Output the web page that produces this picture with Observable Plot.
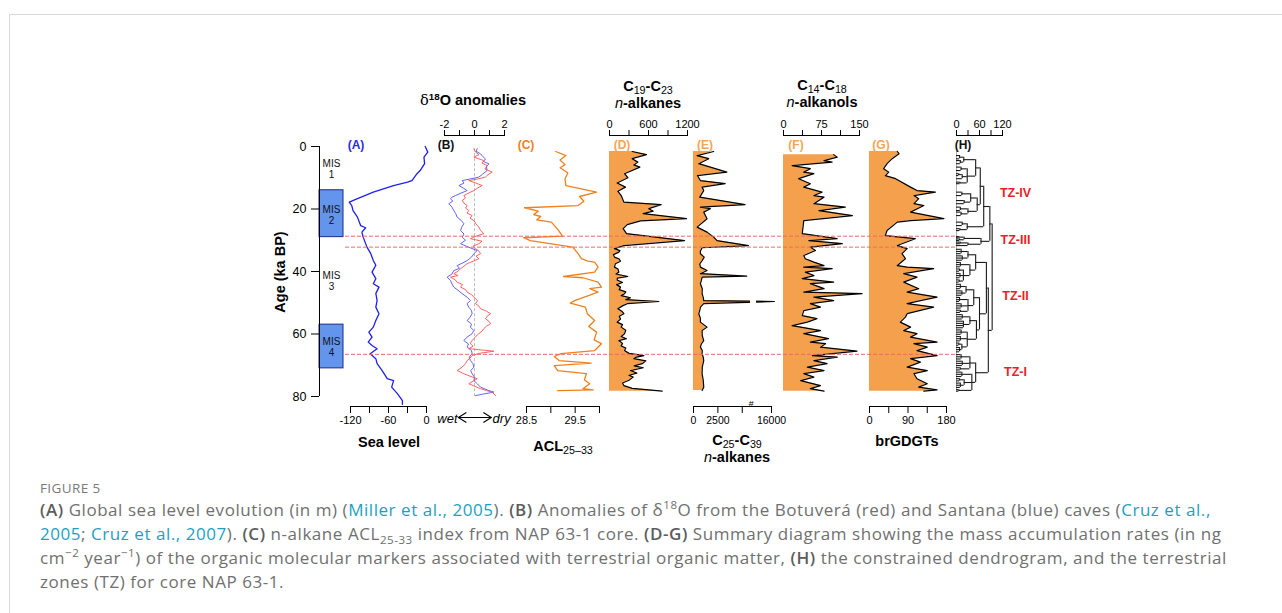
<!DOCTYPE html>
<html>
<head>
<meta charset="utf-8">
<script src="https://cdn.jsdelivr.net/npm/d3@7"></script>
<script src="https://cdn.jsdelivr.net/npm/@observablehq/plot@0.6"></script>
<style>
html,body{margin:0;padding:0;background:#fff;overflow:hidden;}
#wrap{position:relative;width:1282px;height:613px;overflow:hidden;font-family:"Liberation Sans",Arial,sans-serif;}
#card{position:absolute;left:9px;top:14px;width:1400px;height:800px;border-top:1.5px solid #d8d8d8;border-left:1.5px solid #d8d8d8;}
#wrap svg{position:absolute;left:0;top:0;}
.lbl{position:absolute;transform:translate(-50%,-50%);white-space:nowrap;font-weight:bold;font-size:14.5px;color:#000;line-height:13px;text-align:center;}
.lbl sub{font-weight:normal;font-size:0.74em;vertical-align:-0.28em;line-height:0;}
.lbl sup{font-size:0.68em;vertical-align:0.45em;line-height:0;}
.plab{font-size:12px;}
.cap{position:absolute;left:40px;font-family:"Open Sans",Lato,sans-serif;font-size:17px;line-height:20px;color:#707070;white-space:nowrap;letter-spacing:0.55px;transform:translateY(-50%);}
.cap b{color:#5c5c5c;font-weight:600;}
.cap a{color:#1d9fc4;text-decoration:none;}
.cap sub,.cap sup{font-size:0.68em;line-height:0;}
#fig{font-size:13.5px;letter-spacing:0.4px;color:#7a7a7a;}
</style>
</head>
<body>
<div id="wrap"><div id="card"></div></div>
<script>
// ---------------- DATA ----------------
const ageTicks = [0, 20, 40, 60, 80];
const misBoxes = [{start: 14, end: 29}, {start: 57, end: 71}];
const misLabels = [
  {age: 7.3, label: "MIS\n1"}, {age: 21.8, label: "MIS\n2"},
  {age: 43.1, label: "MIS\n3"}, {age: 64.2, label: "MIS\n4"}
];
const zoneBounds = [28.7, 32.2, 66.5];
const zones = [
  {name: "TZ-IV", age: 15}, {name: "TZ-III", age: 30},
  {name: "TZ-II", age: 47.7}, {name: "TZ-I", age: 72.3}
];

// (A) sea level, m  [age ka, value]
const seaLevel = [[0,-2],[1.8,2],[3.4,-4],[5.5,-3],[7.7,-10],[8.7,-15],[10.9,-23],[11.4,-30],[12.5,-52],[14.6,-84],[16.7,-109],[17.8,-122],[18.9,-118],[20.5,-116],[22.6,-109],[25.3,-104],[26,-96],[27.4,-102],[29,-100],[32.2,-94],[34.3,-88],[36.5,-84],[38,-80],[40.2,-86],[42.3,-80],[43.9,-84],[45,-75],[47,-80],[49.3,-78],[51.4,-80],[53.5,-75],[55.7,-80],[57.8,-84],[59.4,-91],[61,-86],[62.6,-92],[63.7,-86],[64.7,-78],[66.3,-89],[67.9,-80],[69.5,-78],[71.7,-70],[73.3,-65],[74.3,-62],[74.9,-52],[77,-55],[79.1,-46],[81.3,-38],[82.5,-38]];

// (B) d18O anomalies
const santana = [[0.7,0.18],[1.5,0.1],[2.35,0.4],[3.2,0.55],[3.95,0.73],[4.8,0.6],[5.55,0.96],[6.5,0.8],[7.7,0.84],[8.8,0.55],[9.8,0.29],[10.4,-0.3],[10.9,-0.82],[11.7,-0.7],[12.5,-1.04],[13.3,-0.75],[14.1,-0.49],[14.9,-0.9],[15.7,-1.27],[16.2,-1.5],[16.7,-1.6],[17.5,-1.45],[18.3,-1.71],[19.4,-1.5],[20.5,-1.38],[21.5,-1.25],[22.6,-1.16],[23.6,-0.9],[24.7,-0.71],[25.8,-0.85],[26.9,-0.93],[28.0,-0.7],[29.0,-0.82],[30.0,-0.6],[31.1,-0.93],[32.2,-0.4],[33.3,0.18],[34.3,-0.04],[35.4,-0.2],[36.5,-0.49],[37.3,-0.8],[38.1,-1.16],[39.0,-1.0],[39.7,-1.38],[40.8,-1.5],[41.8,-1.82],[42.9,-1.6],[44.0,-1.5],[45.0,-1.38],[46.0,-1.1],[47.1,-0.82],[48.2,-0.5],[49.3,-0.27],[50.3,-0.5],[51.4,-0.38],[52.5,-0.2],[53.5,-0.16],[54.6,-0.3],[55.7,-0.49],[56.8,-0.2],[57.8,-0.27],[58.9,-0.05],[59.9,-0.16],[61.0,-0.5],[62.1,-0.71],[63.2,-0.4],[64.2,-0.49],[65.3,-0.2],[66.3,-0.16],[67.4,-0.35],[68.5,-0.27],[69.5,-0.1],[70.6,-0.04],[71.7,-0.25],[72.7,-0.16],[73.8,0.0],[74.9,-0.04],[76.0,0.2],[77.0,0.4],[78.0,0.9],[78.6,1.29],[79.2,0.6],[79.7,0.07]];
const botuvera = [[0.75,-0.04],[1.8,0.07],[2.6,0.3],[3.4,-0.04],[4.5,0.62],[5.3,0.5],[6.1,0.84],[7.2,0.7],[8.2,1.18],[9.0,0.9],[9.8,0.73],[10.4,0.2],[10.9,-0.38],[11.7,0.1],[12.5,0.51],[13.3,0.2],[14.1,-0.04],[14.9,-0.4],[15.7,-0.71],[16.5,-0.6],[17.3,-0.82],[18.1,-0.7],[18.9,-0.49],[19.7,-0.6],[20.5,-0.38],[21.3,-0.5],[22.1,-0.16],[22.9,-0.3],[23.7,-0.04],[24.8,0.1],[25.8,0.29],[26.8,0.4],[27.9,0.62],[28.7,0.1],[29.5,-0.27],[30.3,0.5],[31.1,0.29],[31.9,-0.1],[32.7,0.07],[33.5,0.3],[34.3,0.4],[35.1,0.1],[35.9,0.29],[36.7,-0.1],[37.5,-0.49],[38.3,-0.7],[39.1,-0.93],[39.9,-1.1],[40.7,-1.38],[41.3,-1.1],[41.8,-1.6],[42.6,-1.3],[43.4,-1.16],[44.2,-0.8],[45.0,-0.93],[45.8,-0.6],[46.6,-0.49],[47.4,-0.2],[48.2,-0.04],[49.3,0.2],[50.3,0.07],[51.1,0.3],[51.9,0.4],[52.7,0.8],[53.5,1.07],[54.3,0.85],[55.1,0.73],[55.9,0.95],[56.7,1.07],[57.5,0.8],[58.3,0.62],[59.1,0.5],[59.9,0.29],[60.7,0.1],[61.5,-0.04],[62.3,-0.2],[63.1,-0.27],[63.9,-0.1],[64.7,-0.38],[65.5,1.29],[66.2,0.3],[66.9,-0.16],[67.7,-0.3],[68.5,-0.49],[69.5,-0.6],[70.6,-0.82],[71.7,-1.16],[72.7,-0.71],[73.5,-0.3],[74.3,0.18],[75.1,-0.1],[75.9,-0.38],[76.7,0.0],[77.5,0.4],[78.1,0.8],[78.6,1.18],[79.7,1.4]];

// (C) ACL25-33
const acl = [[1.6,29.10],[2.9,29.31],[4.3,29.19],[5.8,29.29],[6.8,29.19],[8.5,29.35],[10.3,29.29],[12.5,29.31],[14.6,29.94],[16.0,29.59],[17.5,29.68],[18.9,29.56],[19.6,28.46],[20.7,28.74],[21.8,28.65],[22.4,28.79],[23.5,28.71],[24.2,29.01],[26.7,29.15],[28.7,29.24],[29.2,28.44],[30.1,28.58],[32.2,29.45],[34.3,29.56],[35.9,29.63],[36.7,29.76],[37.0,29.90],[38.6,29.97],[40.2,29.90],[41.6,29.26],[42.0,29.66],[43.4,29.97],[45.0,30.04],[45.5,29.80],[46.6,29.97],[49.3,29.49],[50.1,29.40],[51.4,29.71],[53.5,29.75],[55.7,29.90],[57.6,29.78],[59.4,29.94],[61.9,29.89],[63.1,30.04],[65.3,29.90],[66.3,29.21],[67.2,29.07],[68.5,29.17],[69.3,29.83],[70.1,29.07],[71.7,29.14],[72.7,29.73],[74.7,29.69],[75.9,29.80],[77.5,29.66],[77.9,29.87],[78.1,29.14]];

// (D) C19-C23 n-alkanes MAR
const c19c23 = [[1.6,349],[2.6,569],[3.9,349],[5.0,436],[5.9,374],[6.6,467],[8.7,231],[10.0,282],[11.7,118],[13.0,246],[14.3,128],[15.7,180],[17.8,221],[18.6,795],[19.9,605],[20.7,672],[21.5,518],[23.1,1185],[23.8,477],[25.0,272],[26.3,210],[27.9,262],[30.1,1154],[31.7,221],[32.7,77],[33.3,160],[33.8,144],[34.6,60],[35.4,77],[36.0,150],[36.7,169],[37.5,90],[38.6,77],[39.2,130],[40.2,144],[40.8,100],[41.6,282],[42.1,120],[42.7,118],[43.5,200],[44.2,110],[45.0,169],[45.8,150],[46.5,250],[47.1,231],[47.7,180],[48.4,323],[49.0,250],[49.6,759],[50.3,272],[51.0,200],[51.9,128],[52.7,190],[53.5,221],[54.3,150],[55.2,170],[56.2,118],[57.0,200],[57.8,180],[58.8,250],[59.9,231],[60.8,180],[61.5,260],[62.1,144],[63.0,200],[63.8,180],[64.5,250],[65.3,231],[66.2,300],[66.9,528],[67.5,400],[67.9,374],[68.6,560],[69.5,503],[70.2,380],[70.8,520],[71.7,323],[72.5,420],[73.2,300],[73.8,364],[74.8,300],[75.7,200],[76.5,221],[77.4,350],[78.3,810]];

// (E) C25-C39 n-alkanes MAR (axis broken between 5800 and 15500)
const c25c39 = [[1.6,2070],[2.9,370],[3.9,1560],[5.5,540],[8.2,3420],[9.3,400],[10.9,710],[11.9,3250],[13.0,880],[14.1,1050],[16.2,640],[18.6,5290],[19.4,710],[19.9,1730],[21.0,1050],[23.1,1390],[25.8,370],[27.4,1390],[29.0,2070],[30.1,2410],[31.7,5630],[32.4,880],[33.5,700],[34.3,710],[35.4,1100],[36.5,880],[37.6,640],[38.6,710],[39.7,1390],[40.7,710],[41.5,5460],[41.8,880],[42.9,800],[43.9,710],[45.5,900],[47.1,880],[48.3,1000],[49.3,1050],[49.6,16100],[50.3,1050],[51.4,710],[52.5,640],[53.5,540],[54.9,700],[56.2,710],[57.8,1390],[58.9,880],[60.5,900],[62.1,1050],[63.2,800],[64.2,710],[65.3,900],[66.3,880],[67.4,1000],[68.5,1050],[70.6,900],[72.7,880],[74.8,1000],[77.0,1050],[78.1,880]];
const eTicks = [0, 2500, 5000, 16000];
const eTickLabels = ["0", "2500", "", "16000"];

// (F) C14-C18 n-alkanols MAR
const c14c18 = [[2.6,99],[3.4,106],[4.5,80],[5.0,96],[6.1,17],[7.1,53],[8.2,40],[8.7,60],[10.3,30],[11.9,53],[13.0,40],[14.6,76],[15.7,60],[16.2,80],[18.3,60],[19.4,122],[20.5,70],[22.1,136],[23.7,40],[27.9,37],[29.5,106],[30.1,50],[31.1,116],[32.2,53],[33.3,63],[34.9,40],[35.9,43],[37.0,60],[38.1,80],[38.6,40],[39.1,96],[40.2,43],[41.3,60],[42.3,37],[43.4,99],[43.9,53],[45.5,80],[46.6,40],[47.1,155],[48.2,60],[49.3,99],[50.3,53],[51.4,73],[52.5,40],[54.1,37],[55.1,66],[56.2,47],[57.3,17],[58.9,73],[59.9,40],[61.5,89],[62.6,53],[63.1,83],[64.2,73],[65.5,145],[66.9,57],[67.4,106],[68.5,60],[69.5,86],[70.6,47],[71.7,80],[72.7,40],[73.8,60],[74.9,34],[76.5,73],[77.5,53],[78.3,80]];

// (G) brGDGTs MAR
const brgdgt = [[1.6,65],[2.3,69],[3.9,53],[5.5,41],[7.1,33],[8.2,45],[9.3,37],[10.3,61],[13.0,96],[14.1,111],[14.6,154],[15.7,104],[16.7,115],[18.3,104],[18.9,127],[21.0,96],[23.1,174],[23.7,96],[24.2,65],[26.9,41],[28.5,37],[29.5,107],[31.7,65],[32.7,88],[34.3,76],[35.9,84],[38.1,65],[38.6,88],[39.1,150],[40.7,80],[41.8,111],[43.4,80],[45.5,115],[46.6,88],[48.2,158],[49.3,119],[50.3,88],[51.4,150],[53.5,88],[54.6,84],[56.2,72],[57.8,96],[58.9,80],[59.9,111],[61.0,96],[62.6,158],[63.1,104],[64.2,135],[65.3,111],[66.9,158],[67.9,96],[69.0,119],[70.6,88],[71.7,135],[72.7,104],[74.3,111],[75.9,135],[77.0,115],[77.9,158],[78.3,127]];

// (H) constrained dendrogram: [height, ...children]; leaves are sample ages
const tzIV = [71,
  [62,
    [50, [19, [8, 2.9, 3.95], [10, 4.5, 5.5]], [28, [12, 6.6, 7.7], [15, [6, 8.7, 9.3], 10.3], [9, 11.4, 11.9]]],
    [54, [37, [14, 14.6, 15.7], [20, 17.3, 18.3]], [30, [10, 19.4, 20.5], [12, 21.0, 22.1]]]],
  [28, [15, 24.2, 25.3], [9, 26.3, 26.9]]];
const tzIII = [64, [20, [6, 28.8, 29.2], [8, 29.6, 30.1]], [30, [10, 30.6, 31.1], 31.7]];
const tzII = [78,
  [50, [30, [12, 32.9, 33.6, 34.3], [15, 35.0, 35.7, 36.4]], [35, [10, 37.1, 37.8, 38.5], [18, [8, 39.2, 39.9], [9, 40.6, 41.3, 42.0], [7, 42.7, 43.4]]]],
  [60,
    [45, [25, [10, 44.1, 44.8, 45.5], [14, 46.2, 46.9, 47.6]], [30, [8, 48.3, 49.0, 49.6], [12, 50.3, 51.0, 51.7], [10, 52.4, 53.1]]],
    [52, [35, [15, 53.8, 54.5, 55.2], [18, 55.9, 56.6, 57.3, 58.0]], [28, [12, 58.7, 59.4, 60.1], [10, 60.8, 61.5, 62.2], [14, [6, 62.9, 63.6], [8, 64.3, 65.0, 65.7]]]]]];
const tzI = [50,
  [35, [12, 66.6, 67.3, 68.0], [15, 68.7, 69.4, 70.1], [10, 70.8, 71.5]],
  [40, [14, 72.2, 72.9, 73.6], [20, [8, 74.3, 75.0], [10, 75.7, 76.4, 77.1]], [6, 77.8, 78.3]]];
const dendro = [93, [87, tzIV, tzIII], [83, tzII, tzI]];

// ---------------- DRAW ----------------
const W = 1282, HH = 480;
const FONT = "Liberation Sans, Arial, sans-serif";
const wrap = document.getElementById("wrap");
const age = d => d[0], val = d => d[1];
const fill = "#f4a04c";
const fmt = labeled => d => labeled.includes(d) ? String(d) : "";

function panel(left, right, x, marks) {
  const svg = Plot.plot({
    width: W, height: HH,
    marginTop: 135, marginBottom: 74, marginLeft: left, marginRight: W - right,
    insetTop: 11, insetBottom: 10,
    x,
    y: {domain: [0, 80], reverse: true, axis: null},
    style: {background: "none", overflow: "visible", fontFamily: FONT, fontSize: "11px", color: "#000"},
    marks
  });
  wrap.appendChild(svg);
  return svg;
}
const topAxis = (ticks, labeled) => [
  Plot.frame({anchor: "top"}),
  Plot.axisX({anchor: "top", ticks, tickFormat: fmt(labeled), tickSize: 6, tickPadding: 2, label: null, fontSize: 11})
];
const bottomAxis = (ticks, tickFormat, fs = 11) => [
  Plot.frame({anchor: "bottom"}),
  Plot.axisX({anchor: "bottom", ticks, tickFormat, tickSize: 7, tickPadding: 3, label: null, fontSize: fs})
];

// Age axis + MIS boxes
panel(319, 343, {domain: [0, 1], axis: null}, [
  Plot.rect(misBoxes, {y1: "start", y2: "end", fill: "#6495ed", stroke: "#1b2a8a", strokeWidth: 1}),
  Plot.text(misLabels, {y: "age", text: "label", frameAnchor: "middle", fontSize: 10, lineHeight: 1.12, fill: "#111"}),
  Plot.ruleX([0], {y1: 0, y2: 80, stroke: "#000"}),
  Plot.axisY({anchor: "left", ticks: ageTicks, tickSize: 8, tickPadding: 5, fontSize: 12.5, label: null})
]);

// (A)
panel(350, 426, {domain: [-120, 0]}, [
  Plot.lineX(seaLevel, {x: val, y: age, stroke: "#1f1fef", strokeWidth: 1.3}),
  ...bottomAxis([-120, -90, -60, -30, 0], fmt([-120, -60, 0]))
]);

// (B)
panel(444, 504, {domain: [-2, 2]}, [
  Plot.ruleX([0], {y1: 0.7, y2: 80, stroke: "#bdbdbd", strokeDasharray: "3,2"}),
  Plot.lineX(santana, {x: val, y: age, stroke: "#5252ff", strokeWidth: 0.9}),
  Plot.lineX(botuvera, {x: val, y: age, stroke: "#ff5050", strokeWidth: 0.9}),
  ...topAxis([-2, -1, 0, 1, 2], [-2, 0, 2])
]);

// (C)
panel(526, 599, {domain: [28.5, 30]}, [
  Plot.lineX(acl, {x: val, y: age, stroke: "#f0801c", strokeWidth: 1.3}),
  ...bottomAxis([28.5, 29, 29.5, 30], fmt([28.5, 29.5]))
]);

// (D)
panel(609, 687, {domain: [0, 1200]}, [
  Plot.areaX(c19c23, {x: val, y: age, fill}),
  Plot.lineX(c19c23, {x: val, y: age, stroke: "#000", strokeWidth: 1.2}),
  ...topAxis([0, 300, 600, 900, 1200], [0, 600, 1200])
]);

// (E) broken axis: values above the break are compressed (display units)
const brk = v => v <= 5800 ? v : 6518 + (v - 15500) * 2.964;
const eVal = d => brk(d[1]);
panel(693, 771, {domain: [0, 8000]}, [
  Plot.areaX(c25c39, {x: eVal, y: age, fill}),
  Plot.lineX(c25c39, {x: eVal, y: age, stroke: "#000", strokeWidth: 1.2}),
  Plot.ruleY([49.6], {x1: 5850, x2: 6460, stroke: "#fff", strokeWidth: 5}),
  ...bottomAxis(eTicks.map(brk), (d, i) => eTickLabels[i], 10.5),
  Plot.text(["#"], {x: 5900, y: 80, dy: 8, text: d => d, fontSize: 9, fontStyle: "italic"})
]);

// (F)
panel(783, 859, {domain: [0, 150]}, [
  Plot.areaX(c14c18, {x: val, y: age, fill}),
  Plot.lineX(c14c18, {x: val, y: age, stroke: "#000", strokeWidth: 1.2}),
  ...topAxis([0, 37.5, 75, 112.5, 150], [0, 75, 150])
]);

// (G)
panel(869, 946, {domain: [0, 180]}, [
  Plot.areaX(brgdgt, {x: val, y: age, fill}),
  Plot.lineX(brgdgt, {x: val, y: age, stroke: "#000", strokeWidth: 1.2}),
  ...bottomAxis([0, 45, 90, 135, 180], fmt([0, 90, 180]))
]);

// (H) dendrogram
const vSegs = [], hSegs = [];
function layout(node) {
  if (typeof node === "number") return {y: node, x: 0};
  const [h, ...kids] = node;
  const pts = kids.map(layout);
  pts.forEach(p => hSegs.push({y: p.y, x1: p.x, x2: h}));
  const ys = pts.map(p => p.y);
  vSegs.push({x: h, y1: d3.min(ys), y2: d3.max(ys)});
  return {y: d3.mean(ys), x: h};
}
layout(dendro);
panel(956, 1002, {domain: [0, 120]}, [
  Plot.ruleX([0], {y1: 1.6, y2: 78.3, stroke: "#9a9a9a", strokeWidth: 0.8}),
  Plot.ruleY(hSegs, {y: "y", x1: "x1", x2: "x2", stroke: "#1a1a1a", strokeWidth: 1.1}),
  Plot.ruleX(vSegs, {x: "x", y1: "y1", y2: "y2", stroke: "#1a1a1a", strokeWidth: 1.1}),
  Plot.text(zones, {y: "age", text: "name", frameAnchor: "right", dx: 13, textAnchor: "middle", fill: "#ee1d25", fontWeight: "bold", fontSize: 12.5}),
  ...topAxis([0, 30, 60, 90, 120], [0, 60, 120])
]);

// zone boundaries overlay
wrap.appendChild(Plot.plot({
  width: W, height: HH,
  marginTop: 135, marginBottom: 74, marginLeft: 345, marginRight: W - 957,
  insetTop: 11, insetBottom: 10,
  y: {domain: [0, 80], reverse: true, axis: null},
  style: {background: "none", overflow: "visible"},
  marks: [Plot.ruleY(zoneBounds, {stroke: "#f26868", strokeDasharray: "4,2", strokeWidth: 1})]
}));

// ---------------- TEXT ----------------
function addLabel(html, x, y, cls, css) {
  const d = document.createElement("div");
  d.className = "lbl" + (cls ? " " + cls : "");
  d.innerHTML = html;
  d.style.left = x + "px"; d.style.top = y + "px";
  Object.assign(d.style, css || {});
  wrap.appendChild(d);
}
const panelLabels = [
  ["(A)", 356, "#2a2ae6"], ["(B)", 446, "#111"], ["(C)", 526, "#f0801c"], ["(D)", 622, "#f5a552"],
  ["(E)", 705, "#f5a552"], ["(F)", 796, "#f5a552"], ["(G)", 881, "#f5a552"], ["(H)", 963, "#111"]
];
panelLabels.forEach(([t, x, c]) => addLabel(t, x, 145, "plab", {color: c}));

const nItal = '<i style="font-weight:normal">n</i>';
addLabel('<span style="font-family:\'DejaVu Serif\',serif;font-weight:normal">&delta;</span><sup>18</sup>O anomalies', 473, 100);
addLabel('C<sub>19</sub>-C<sub>23</sub>', 648, 86);
addLabel(nItal + '-alkanes', 648, 103);
addLabel('C<sub>14</sub>-C<sub>18</sub>', 822, 85);
addLabel(nItal + '-alkanols', 822, 102);
addLabel('Sea level', 389, 442);
addLabel('ACL<sub>25&ndash;33</sub>', 563, 446);
addLabel('C<sub>25</sub>-C<sub>39</sub>', 737, 440);
addLabel(nItal + '-alkanes', 737, 457);
addLabel('brGDGTs', 907, 441);
addLabel('Age (ka BP)', 280, 272, "", {transform: "translate(-50%,-50%) rotate(-90deg)", fontSize: "14.5px"});
addLabel('<i>wet</i><svg width="35" height="12" style="position:static;vertical-align:-1px"><path d="M1,6H34M9,1L1,6L9,11M26,1L34,6L26,11" fill="none" stroke="#000" stroke-width="1.1"/></svg><i>dry</i>', 474, 418, "", {fontWeight: "normal", fontSize: "13px"});

// caption
const capLines = [
  {y: 488, html: 'FIGURE 5', id: "fig"},
  {y: 510, html: '<b>(A)</b> Global sea level evolution (in m) (<a>Miller et al., 2005</a>). <b>(B)</b> Anomalies of &delta;<sup>18</sup>O from the Botuver&aacute; (red) and Santana (blue) caves (<a>Cruz et al.,</a>'},
  {y: 534, html: '<a>2005</a>; <a>Cruz et al., 2007</a>). <b>(C)</b> n-alkane ACL<sub>25-33</sub> index from NAP 63-1 core. <b>(D-G)</b> Summary diagram showing the mass accumulation rates (in ng'},
  {y: 558, html: 'cm<sup>&minus;2</sup> year<sup>&minus;1</sup>) of the organic molecular markers associated with terrestrial organic matter, <b>(H)</b> the constrained dendrogram, and the terrestrial'},
  {y: 582, html: 'zones (TZ) for core NAP 63-1.'}
];
capLines.forEach(l => {
  const d = document.createElement("div");
  d.className = "cap";
  if (l.id) d.id = l.id;
  d.innerHTML = l.html;
  d.style.top = l.y + "px";
  wrap.appendChild(d);
});
</script>
</body>
</html>
